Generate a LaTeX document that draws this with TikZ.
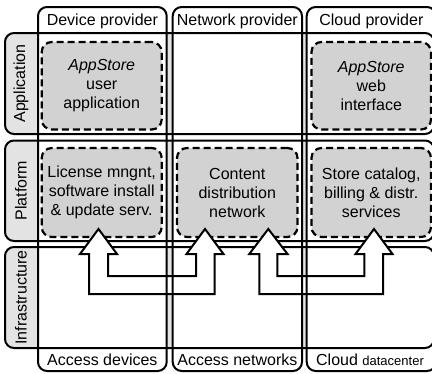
\documentclass[tikz,border=0pt]{standalone}
\usepackage{fontspec}
\setmainfont{Liberation Sans}
\begin{document}
\begin{tikzpicture}[x=1pt,y=-1pt,
  every node/.style={font=\fontsize{16}{19}\selectfont, inner sep=0pt, outer sep=0pt},
  rowfill/.style={rectangle, rounded corners=9pt, fill=gray!22},
  colfill/.style={rectangle, rounded corners=9pt, fill=white, minimum height=364pt},
  outline/.style={draw=black, line width=2pt, rounded corners=9pt},
  servicebox/.style={rectangle, rounded corners=10pt, fill=gray!35, draw=black,
    line width=2.2pt, dash pattern=on 7pt off 4pt, align=center,
    minimum width=120pt},
  blockarrow/.style={draw=black, fill=white, line width=2pt, line join=miter},
  rowlabel/.style={rotate=90, anchor=center},
  small/.style={font=\fontsize{13}{15}\selectfont}
]
\useasboundingbox (0,0) rectangle (432,373);

% layer bands (rows)
\node[rowfill, minimum width=429pt, minimum height=101pt]   (rowApp)   at (219.5,83.5)  {};
\node[rowfill, minimum width=429pt, minimum height=100.5pt] (rowPlat)  at (219.5,190.75) {};
\node[rowfill, minimum width=429pt, minimum height=101pt]   (rowInfra) at (219.5,297.5) {};

% stakeholder columns
\node[colfill, minimum width=128.7pt] (colDev)   at (102.35,189) {};
\node[colfill, minimum width=129.3pt] (colNet)   at (237.35,189) {};
\node[colfill, minimum width=129.3pt] (colCloud) at (371.35,189) {};

% row outlines
\foreach \r in {rowApp,rowPlat,rowInfra}
  \draw[outline] (\r.south west) rectangle (\r.north east);

% services
\node[servicebox, minimum height=87.5pt] (appDev) at (101.7,85.75)
  {\textit{AppStore}\\user\\application};
\node[servicebox, minimum height=87.5pt, minimum width=119.5pt] (appCloud) at (371.25,85.75)
  {\textit{AppStore}\\web\\interface};
\node[servicebox, minimum height=89pt] (platDev) at (101.7,192.5)
  {License mngnt,\\software install\\\& update serv.};
\node[servicebox, minimum height=89pt, minimum width=120.5pt] (platNet) at (237.25,192.5)
  {Content\\distribution\\network};
\node[servicebox, minimum height=89pt, minimum width=119.5pt] (platCloud) at (371.25,192.5)
  {Store catalog,\\billing \& distr.\\services};

% U-shaped double arrows through the infrastructure layer
\draw[blockarrow] (98.5,229) -- (117,254) -- (108,254) -- (108,276) -- (196,276)
  -- (196,254) -- (186.5,254) -- (205,229) -- (223.5,254) -- (214.5,254)
  -- (214.5,294) -- (89,294) -- (89,254) -- (80,254) -- cycle;
\draw[blockarrow] (268.3,229) -- (287.5,254) -- (277.3,254) -- (277.3,276) -- (364.3,276)
  -- (364.3,254) -- (355.5,254) -- (374,229) -- (392.5,254) -- (383,254)
  -- (383,294) -- (259.3,294) -- (259.3,254) -- (249.3,254) -- cycle;

% column outlines
\foreach \c in {colDev,colNet,colCloud}
  \draw[outline] (\c.south west) rectangle (\c.north east);

% column headers and footers
\node (hDev)   at (102.35,21) {Device provider};
\node (hNet)   at (237.35,21) {Network provider};
\node (hCloud) at (371.35,21) {Cloud provider};
\node (fDev)   at (102.35,360) {Access devices};
\node (fNet)   at (237.35,360) {Access networks};
\node (fCloud) at (370,360) {Cloud {\fontsize{13}{15}\selectfont datacenter}};

% row labels
\node[rowlabel] (lApp)   at (21,83.5)  {Application};
\node[rowlabel] (lPlat)  at (21,190.75) {Platform};
\node[rowlabel] (lInfra) at (21,297.5) {Infrastructure};
\end{tikzpicture}
\end{document}
